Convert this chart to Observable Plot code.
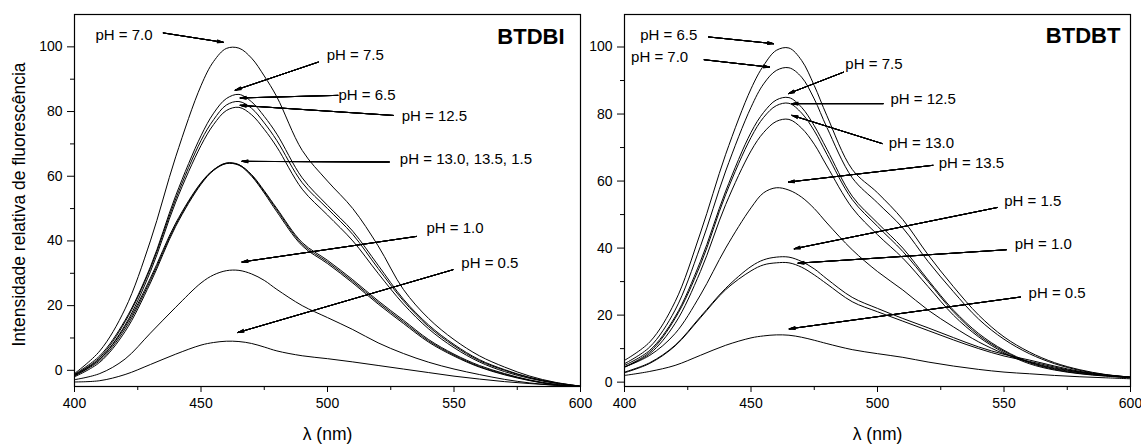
<!DOCTYPE html>
<html><head><meta charset="utf-8">
<script src="https://cdn.jsdelivr.net/npm/d3@7"></script>
<script src="https://cdn.jsdelivr.net/npm/@observablehq/plot@0.6"></script>
<style>
body{margin:0;background:#fff;}
#chart{position:relative;width:1141px;height:444px;background:#fff;font-family:"Liberation Sans",Arial,sans-serif;}
#left{position:absolute;left:0;top:0;z-index:2;}
#right{position:absolute;left:590px;top:0;z-index:1;}
#chart svg{overflow:visible;background:transparent;}
</style></head><body><div id="chart"><div id="left"></div><div id="right"></div></div>
<script>
// Wavelengths (nm)
const wavelengths = [400,410,420,430,440,450,455,460,465,470,475,480,490,500,510,520,530,540,550,560,570,580,590,600];
const xMajor = [400,450,500,550,600];
const xMinor = [425,475,525,575];
const yMajor = [0,20,40,60,80,100];
const yMinor = [10,30,50,70,90];

// BTDBI series
const bi_pH70  = [-1.0, 6, 19, 40, 66, 88, 95.5, 99.5, 99.6, 96.5, 91, 84.5, 68, 58.5, 50, 38.5, 25, 16, 9.5, 4.5, 1, -1.8, -3.7, -4.9];
const bi_pH75  = [-1.2, 4.5, 15.5, 32, 54, 72.5, 79.5, 84, 85.3, 83, 78.5, 73, 59.5, 51, 43, 32.5, 22, 14, 8, 3.3, 0.2, -2.2, -3.8, -4.9];
const bi_pH65  = [-1.5, 4, 15, 31.5, 53, 71, 77.5, 82, 83.1, 81, 76.5, 71, 58, 50, 42, 31.5, 21.5, 13.5, 7.6, 3, 0, -2.3, -3.9, -4.9];
const bi_pH125 = [-1.8, 3.5, 14, 30.5, 52, 69.5, 76, 80.3, 81.3, 79, 74.5, 69, 56, 48, 40, 30, 20.5, 12.8, 7, 2.6, -0.4, -2.5, -4, -5];
const bi_pH130 = [-1.3, 3.5, 13.5, 28.5, 45.5, 58, 62, 64, 63.5, 60.5, 55.5, 50, 39.5, 34, 28, 21.5, 15.5, 9.5, 5, 1.5, -1, -3, -4.3, -5];
const bi_pH135 = [-1.6, 3, 12.8, 27.8, 45, 57.8, 62, 64.1, 63.6, 60.3, 55.2, 49.6, 39, 33.5, 27.5, 21, 15, 9.1, 4.7, 1.2, -1.2, -3.1, -4.4, -5];
const bi_pH15  = [-2, 2.5, 12, 27, 44.5, 57.5, 61.8, 63.9, 63.4, 60, 54.8, 49, 38.5, 33, 27, 20.5, 14.5, 8.7, 4.4, 1, -1.4, -3.2, -4.5, -5];
const bi_pH10  = [-2.9, -1, 3.5, 11.5, 19.5, 27, 29.5, 30.8, 30.9, 29.8, 27.8, 25, 20, 16.3, 12.6, 8.5, 5.2, 2.5, 0.4, -1.3, -2.8, -3.9, -4.6, -5];
const bi_pH05  = [-3.6, -3.2, -1.3, 1.8, 5, 7.8, 8.6, 9, 8.9, 8.3, 7.2, 6, 4.5, 3.6, 2.6, 1.5, 0.4, -0.7, -1.8, -2.7, -3.5, -4.1, -4.6, -5];

// BTDBT series
const bt_pH65  = [6.5, 12, 24, 44.5, 68, 87.5, 94.5, 99, 99.7, 96, 88.5, 79.5, 63.5, 56.5, 48.5, 38, 28.5, 20, 13.5, 9, 5.8, 3.7, 2.3, 1.5];
const bt_pH70  = [5.5, 10.5, 21.5, 40.5, 63, 82, 89, 93, 93.8, 91, 84.5, 76, 61, 53.5, 46, 36, 27, 18.8, 12.8, 8.5, 5.5, 3.5, 2.2, 1.5];
const bt_pH75  = [5, 9.5, 19.5, 36, 57, 74.5, 80.5, 84.2, 84.9, 82, 76.5, 69.5, 55.5, 47.5, 40, 30.5, 21.5, 14.5, 9.5, 6, 4, 2.8, 2, 1.5];
const bt_pH125 = [4.5, 9, 19, 35, 56, 73, 79, 82.5, 83.2, 80.3, 75, 68, 54.5, 46.5, 39, 30, 21, 14, 9.2, 5.8, 3.8, 2.6, 1.9, 1.4];
const bt_pH130 = [4.5, 8.5, 17.5, 33, 53, 69, 74.5, 77.8, 78.4, 75.8, 71, 64.5, 52, 44, 37, 28.5, 20, 13.5, 8.8, 5.5, 3.6, 2.5, 1.8, 1.3];
const bt_pH135 = [4.5, 8, 14.5, 26, 40, 52, 56.5, 58, 57.3, 55.2, 51.8, 47.5, 39.5, 33, 27.5, 21.5, 16.5, 12, 8.5, 6, 4.2, 3, 2, 1.3];
const bt_pH15  = [3, 5.8, 11, 19.5, 28, 34.5, 36.5, 37.3, 37.3, 36, 33.8, 30.8, 25.3, 22, 19, 16.2, 13.3, 10.5, 8.3, 6.6, 4.8, 3.2, 2.2, 1.5];
const bt_pH10  = [2.8, 5.6, 10.8, 19.2, 27.6, 33.2, 35, 35.6, 35.6, 34.3, 32, 29.3, 24, 21, 18.2, 15.4, 12.6, 10, 7.8, 6.2, 4.5, 3, 2.1, 1.4];
const bt_pH05  = [2, 3.2, 5, 8, 11, 13.2, 13.8, 14.1, 14, 13.4, 12.5, 11.5, 9.7, 8.5, 7.4, 6, 4.8, 3.8, 3, 2.5, 2, 1.6, 1.3, 1];

// Annotations BTDBI: label text, label position, arrow start and end
const biLabelText = ["pH = 7.0","pH = 7.5","pH = 6.5","pH = 12.5","pH = 13.0, 13.5, 1.5","pH = 1.0","pH = 0.5"];
const biLabelX = [408.3, 499.7, 504.3, 529.3, 528.6, 539.1, 552.9];
const biLabelY = [103.6, 97.4, 85.0, 78.5, 65.2, 43.9, 33.1];
const biArrowX1 = [435.1, 496.4, 504.1, 526.0, 524.4, 535.2, 549.6];
const biArrowY1 = [104.3, 95.3, 85.0, 78.8, 64.4, 41.4, 31.1];
const biArrowX2 = [458.8, 463.5, 465.5, 465.5, 466.2, 466.2, 464.6];
const biArrowY2 = [101.4, 86.6, 84.2, 81.9, 64.6, 33.5, 11.7];

// Annotations BTDBT
const btLabelText = ["pH = 6.5","pH = 7.0","pH = 7.5","pH = 12.5","pH = 13.0","pH = 13.5","pH = 1.5","pH = 1.0","pH = 0.5"];
const btLabelX = [406.2, 402.6, 487.3, 505.1, 504.4, 524.2, 550.1, 554.2, 559.7];
const btLabelY = [103.5, 96.9, 94.8, 84.4, 71.4, 65.4, 53.9, 41.1, 26.6];
const btArrowX1 = [433.2, 431.5, 486.6, 502.2, 501.8, 521.9, 547.3, 550.9, 556.5];
const btArrowY1 = [103.0, 96.2, 92.5, 83.1, 71.2, 64.7, 52.1, 39.5, 25.4];
const btArrowX2 = [458.9, 457.3, 464.8, 466.2, 466.2, 464.8, 467.1, 468.6, 465.1];
const btArrowY2 = [101.0, 94.0, 86.1, 83.1, 79.6, 59.7, 39.8, 35.5, 15.9];

function panel(o) {
  const rows = o.series.flatMap(s => wavelengths.map((w, i) => ({wl: w, v: s.values[i], pH: s.pH})));
  const labels = o.labelText.map((t, i) => ({t, x: o.labelX[i], y: o.labelY[i]}));
  const arrows = o.arrowX1.map((d, i) => ({x1: d, y1: o.arrowY1[i], x2: o.arrowX2[i], y2: o.arrowY2[i]}));
  const marks = [
    Plot.axisX({ticks: xMajor, tickSize: 6, tickPadding: 6, tickFormat: d => String(d), label: null, fontSize: 14}),
    Plot.axisX({ticks: xMinor, tickSize: 4, tickFormat: () => "", label: null}),
    Plot.axisY({ticks: yMajor, tickSize: 7, tickPadding: 5, tickFormat: d => String(d), label: null, fontSize: 14}),
    Plot.axisY({ticks: yMinor, tickSize: 4, tickFormat: () => "", label: null}),
    Plot.frame({stroke: "#000", strokeWidth: 1.2}),
    Plot.line(rows, {x: "wl", y: "v", z: "pH", stroke: "#000", strokeWidth: 1, curve: "catmull-rom"})
  ];
  for (const a of [4, 10, 16, 22, 28]) {
    marks.push(Plot.arrow(arrows, {x1: "x1", y1: "y1", x2: "x2", y2: "y2", stroke: "#000", strokeWidth: 1, headLength: 9, headAngle: a}));
  }
  marks.push(Plot.text(labels, {x: "x", y: "y", text: "t", textAnchor: "start", fontSize: 15, fill: "#000"}));
  marks.push(Plot.text([o.title], {x: o.titleX, y: o.titleY, text: d => d, textAnchor: "end", fontSize: 22, fontWeight: "bold", fill: "#000"}));
  marks.push(Plot.text(["λ (nm)"], {frameAnchor: "bottom", lineAnchor: "middle", textAnchor: "middle", dy: 48, text: d => d, fontSize: 17.5, fill: "#000"}));
  if (o.yLabel) marks.push(Plot.text([o.yLabel], {frameAnchor: "left", lineAnchor: "middle", textAnchor: "middle", rotate: -90, dx: -55.5, dy: 4, text: d => d, fontSize: 17.5, fill: "#000"}));
  return Plot.plot({
    width: o.width, height: 444,
    marginLeft: o.marginLeft, marginRight: o.marginRight, marginTop: 14, marginBottom: 58,
    style: {fontFamily: '"Liberation Sans", Arial, sans-serif', fontSize: "14px", color: "#000", background: "transparent", overflow: "visible"},
    x: {domain: [400, 600]},
    y: {domain: o.yDomain},
    marks
  });
}

document.getElementById("left").append(panel({
  width: 590, marginLeft: 74, marginRight: 10, yDomain: [-5, 110],
  series: [
    {pH: "7.0", values: bi_pH70}, {pH: "7.5", values: bi_pH75}, {pH: "6.5", values: bi_pH65},
    {pH: "12.5", values: bi_pH125}, {pH: "13.0", values: bi_pH130}, {pH: "13.5", values: bi_pH135},
    {pH: "1.5", values: bi_pH15}, {pH: "1.0", values: bi_pH10}, {pH: "0.5", values: bi_pH05}
  ],
  labelText: biLabelText, labelX: biLabelX, labelY: biLabelY,
  arrowX1: biArrowX1, arrowY1: biArrowY1, arrowX2: biArrowX2, arrowY2: biArrowY2,
  title: "BTDBI", titleX: 593.7, titleY: 103.2,
  yLabel: "Intensidade relativa de fluorescência"
}));

document.getElementById("right").append(panel({
  width: 551, marginLeft: 34, marginRight: 11, yDomain: [-1.3, 109.7],
  series: [
    {pH: "6.5", values: bt_pH65}, {pH: "7.0", values: bt_pH70}, {pH: "7.5", values: bt_pH75},
    {pH: "12.5", values: bt_pH125}, {pH: "13.0", values: bt_pH130}, {pH: "13.5", values: bt_pH135},
    {pH: "1.5", values: bt_pH15}, {pH: "1.0", values: bt_pH10}, {pH: "0.5", values: bt_pH05}
  ],
  labelText: btLabelText, labelX: btLabelX, labelY: btLabelY,
  arrowX1: btArrowX1, arrowY1: btArrowY1, arrowX2: btArrowX2, arrowY2: btArrowY2,
  title: "BTDBT", titleX: 596.0, titleY: 103.2,
  yLabel: null
}));
</script></body></html>
